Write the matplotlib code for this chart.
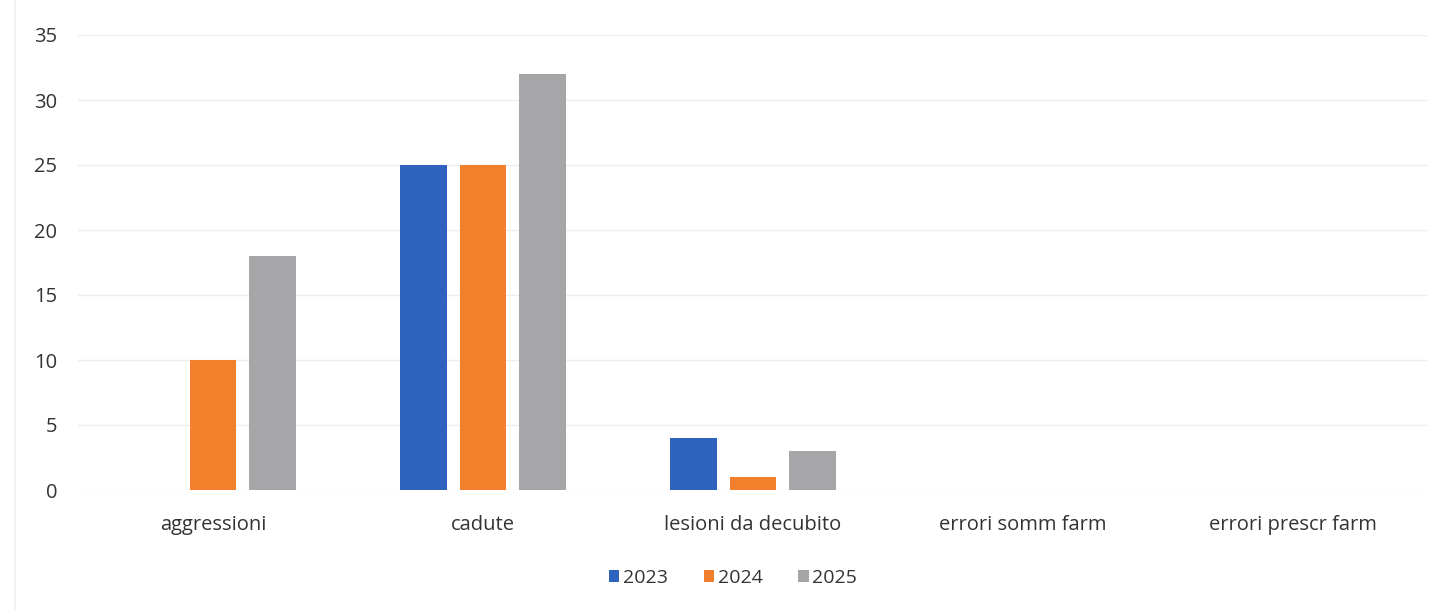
import matplotlib
matplotlib.use("Agg")
import matplotlib.pyplot as plt
import numpy as np

categories = ["aggressioni", "cadute", "lesioni da decubito", "errori somm farm", "errori prescr farm"]
series_names = ["2023", "2024", "2025"]
v2023 = [0, 25, 4, 0, 0]
v2024 = [10, 25, 1, 0, 0]
v2025 = [18, 32, 3, 0, 0]
yticks = [0, 5, 10, 15, 20, 25, 30, 35]
colors = ["#2F62BF", "#F17F2C", "#A6A6A8"]

plt.rcParams['font.family'] = ['Open Sans', 'DejaVu Sans']

fig = plt.figure(figsize=(14.48, 6.11), dpi=100)
ax = fig.add_axes([78/1448, 1 - 490/611, 1350/1448, 455/611])

x = np.arange(len(categories))
w = 0.174
off = 0.222
for i, (vals, name, c) in enumerate(zip([v2023, v2024, v2025], series_names, colors)):
    ax.bar(x + (i - 1) * off, vals, width=w, color=c, label=name, zorder=3)

ax.set_xlim(-0.5, len(categories) - 0.5)
ax.set_ylim(0, 35)
ax.set_yticks(yticks)
ax.set_xticks(x)
ax.set_xticklabels(categories)
ax.yaxis.grid(True, color="#EDEDED", linewidth=1.0, zorder=0)
ax.tick_params(axis='both', length=0, colors="#333333")
ax.tick_params(axis='y', pad=15, labelsize=14.5)
ax.tick_params(axis='x', pad=18, labelsize=14.5)
for s in ax.spines.values():
    s.set_visible(False)

fig.legend(loc="center", bbox_to_anchor=(733/1448, 1 - 578/611), ncol=3, frameon=False,
           fontsize=14, handlelength=0.52, handleheight=0.52, handletextpad=0.2,
           columnspacing=1.85, labelcolor="#333333")

fig.add_artist(plt.Line2D([15/1448, 15/1448], [0, 1], color="#F2F2F2", linewidth=1.5))

fig.savefig("out.png", dpi=100)
